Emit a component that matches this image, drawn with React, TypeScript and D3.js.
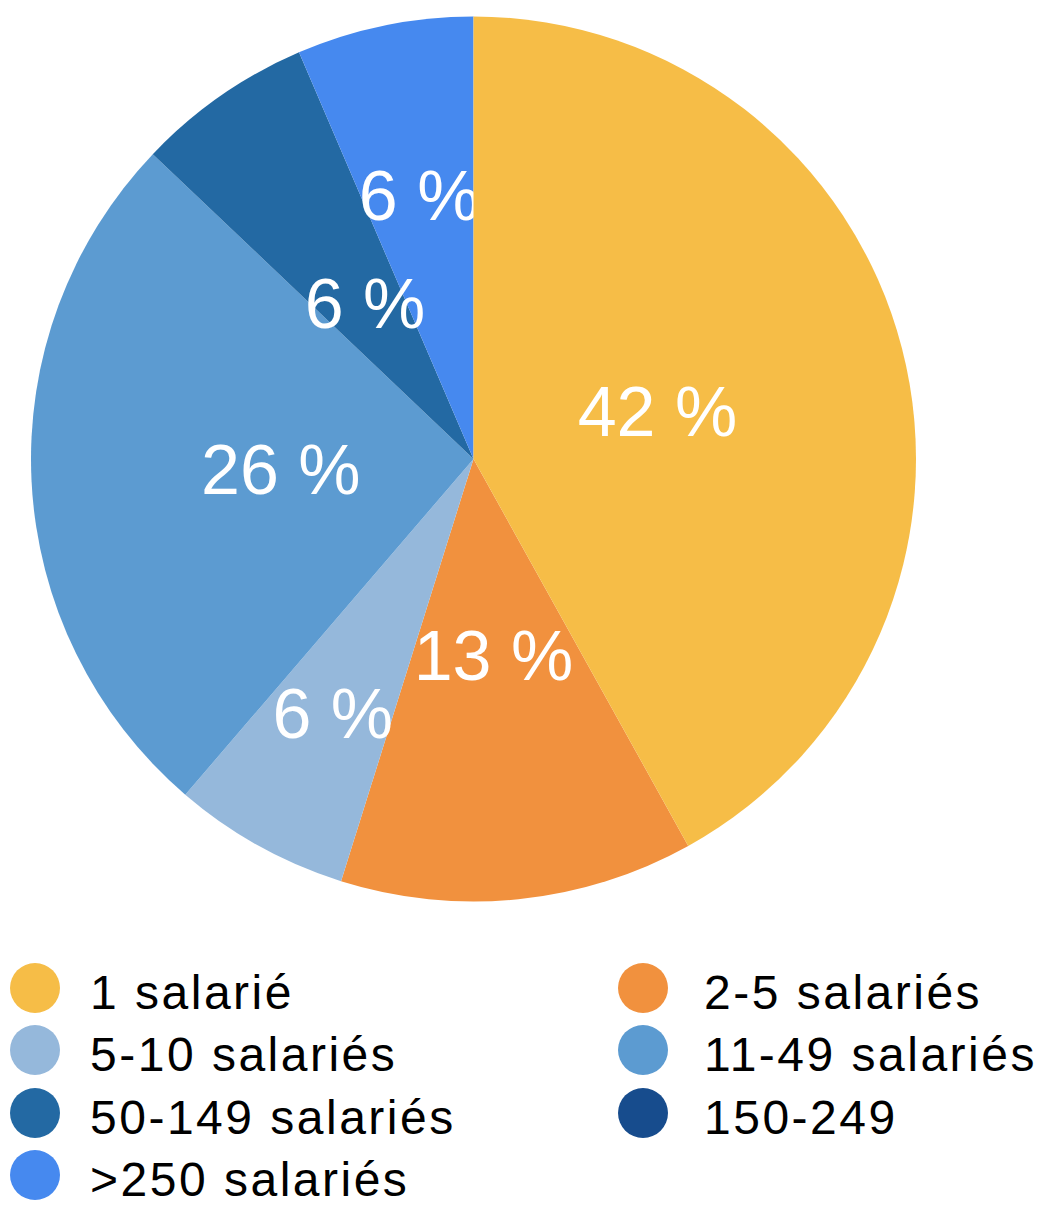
import React from "react";
import * as d3 from "d3";

const categories = ["1 salarié", "2-5 salariés", "5-10 salariés", "11-49 salariés", "50-149 salariés", "150-249", ">250 salariés"];
const counts = [13, 4, 2, 8, 2, 0, 2];
const colors = ["#F6BD47", "#F1913E", "#95B8DB", "#5C9BD1", "#2369A3", "#174C8D", "#4689EF"];

const W = 1039;
const H = 1205;
const CX = 473.5;
const CY = 459;
const R = 442.5;
const labelRadii = [190, 197, 290, 193, 190, 0, 270];
const FONT = "'Liberation Sans', Arial, Helvetica, sans-serif";

export default function App() {
  const total = d3.sum(counts);
  const pie = d3.pie<number>().sort(null).value((d) => d);
  const arcs = pie(counts);
  const arcGen = d3.arc<d3.PieArcDatum<number>>().innerRadius(0).outerRadius(R);

  const order = [1, 2, 3, 4, 5, 6];
  const sliceEl = (i: number) => (
    <path key={"s" + i} d={arcGen(arcs[i]) || ""} fill={colors[i]} />
  );
  const labelEl = (i: number) => {
    if (counts[i] === 0) return null;
    const lr = labelRadii[i];
    const c = d3.arc<d3.PieArcDatum<number>>().innerRadius(lr).outerRadius(lr).centroid(arcs[i]);
    const pct = Math.round((counts[i] / total) * 100);
    return (
      <text key={"l" + i} x={c[0]} y={c[1] + 25} textAnchor="middle" fill="#fff" fontSize={70} fontFamily={FONT}>
        {pct + " %"}
      </text>
    );
  };

  const legendRows = [988, 1050, 1113, 1175];
  const legendCols = [{ cx: 35, tx: 90 }, { cx: 643, tx: 704 }];

  return (
    <svg width={W} height={H} style={{ position: "absolute", left: 0, top: 0, background: "#fff" }}>
      <g transform={`translate(${CX},${CY})`}>
        {order.map(sliceEl)}
        {order.map(labelEl)}
        {sliceEl(0)}
        {labelEl(0)}
      </g>
      <g>
        {categories.map((cat, i) => {
          const col = legendCols[i % 2];
          const y = legendRows[Math.floor(i / 2)];
          return (
            <g key={"lg" + i}>
              <circle cx={col.cx} cy={y} r={25} fill={colors[i]} />
              <text x={col.tx} y={y + 21} fontSize={48} letterSpacing={2.5} fontFamily={FONT} fill="#000">
                {cat}
              </text>
            </g>
          );
        })}
      </g>
    </svg>
  );
}
